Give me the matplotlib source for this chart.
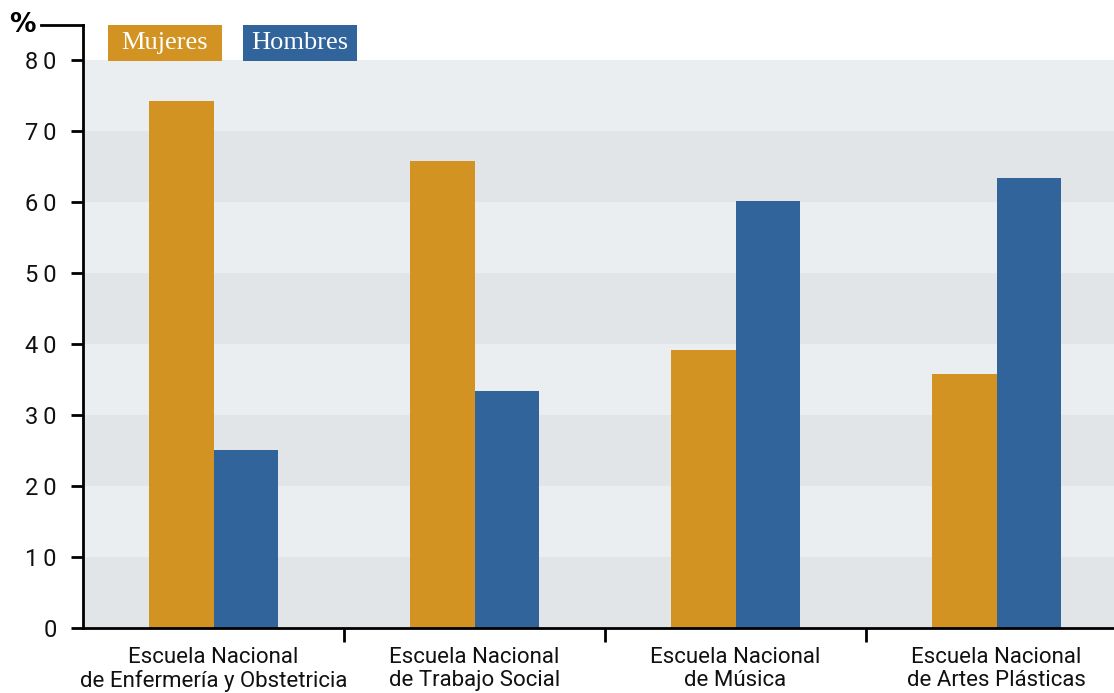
import matplotlib.pyplot as plt
from matplotlib.patches import Rectangle
import numpy as np

# datos
escuelas = ["Escuela Nacional\nde Enfermería y Obstetricia",
            "Escuela Nacional\nde Trabajo Social",
            "Escuela Nacional\nde Música",
            "Escuela Nacional\nde Artes Plásticas"]
mujeres = [74.2, 65.8, 39.2, 35.8]
hombres = [25.1, 33.4, 60.1, 63.4]
yticks = [0, 10, 20, 30, 40, 50, 60, 70, 80]

c_muj = "#D29323"
c_hom = "#31649B"
band_light = "#EAEEF1"
band_dark = "#E1E5E8"
sans = ["Roboto", "DejaVu Sans"]

W, H = 1114, 693
fig = plt.figure(figsize=(W / 100, H / 100), dpi=100)
ax = fig.add_axes([83 / W, 1 - 628 / H, 1 - 83 / W, (628 - 24.5) / H])

# bandas de fondo
for i, lo in enumerate(yticks[:-1]):
    ax.axhspan(lo, lo + 10, color=band_dark if i % 2 == 0 else band_light, lw=0, zorder=0)

x = np.arange(len(escuelas))
w = 0.248
ax.bar(x - w / 2, mujeres, w, color=c_muj, zorder=2)
ax.bar(x + w / 2, hombres, w, color=c_hom, zorder=2)

ax.set_xlim(-0.5, 3.45)
ax.set_ylim(0, 85)

for s in ["top", "right"]:
    ax.spines[s].set_visible(False)
ax.spines["left"].set_linewidth(2)
ax.spines["bottom"].set_linewidth(2)

ax.set_yticks(yticks)
ax.set_yticklabels(["\u2009".join(str(v)) for v in yticks], fontsize=17, family=sans,
                   color="#111111")
ax.tick_params(axis="y", direction="out", length=9, width=2, pad=10)

ax.set_xticks([0.5, 1.5, 2.5])
ax.set_xticklabels([])
ax.tick_params(axis="x", which="major", direction="out", length=10, width=2)
ax.set_xticks(x, minor=True)
ax.set_xticklabels(escuelas, minor=True, fontsize=16, family=sans,
                   color="#111111", linespacing=1.1)
ax.tick_params(axis="x", which="minor", length=0, pad=14)

# eje superior con %
ax.plot([-0.5 - 42 / 261, -0.5], [85, 85], color="black", lw=2, clip_on=False)
fig.text(9 / W, 1 - 25 / H, "%", fontsize=19, fontweight="bold", va="center", ha="left")

# leyenda
for x0, lab, col in [(108, "Mujeres", c_muj), (243, "Hombres", c_hom)]:
    fig.add_artist(Rectangle((x0 / W, 1 - 61 / H), 114 / W, 36 / H,
                             transform=fig.transFigure, color=col, lw=0))
    fig.text((x0 + 57) / W, 1 - 43 / H, lab, fontsize=19, family="Liberation Serif",
             color="white", ha="center", va="center")

fig.savefig("out.png", dpi=100)
